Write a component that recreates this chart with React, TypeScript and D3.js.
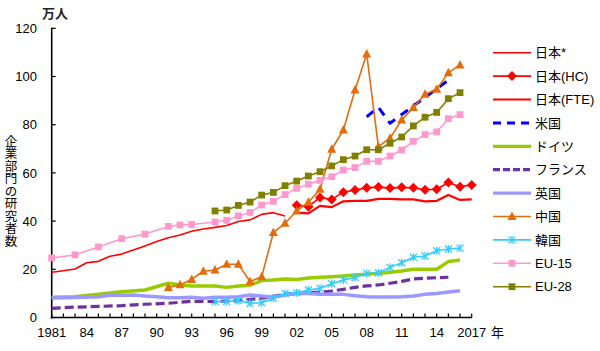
import React from 'react';
import * as d3 from 'd3';

const years = d3.range(1981, 2018);
const N = null;

// values in 万人, one slot per year 1981..2017 (null = no data)
const japanStar = [18.8, 19.4, 20.1, 22.7, 23.3, 25.4, 26.3, 28.0, 29.7, 31.5, 33.1, 34.2, 35.8, 36.7, 37.4, 38.2, 39.8, 40.5, 42.8, 43.5, 42.1, N, N, N, N, N, N, N, N, N, N, N, N, N, N, N, N];
const japanHC = [N, N, N, N, N, N, N, N, N, N, N, N, N, N, N, N, N, N, N, N, N, 46.6, 46.0, 49.8, 49.0, 52.0, 52.9, 53.8, 54.1, 53.7, 54.0, 53.8, 53.0, 53.2, 56.0, 54.3, 55.0];
const japanFTE = [N, N, N, N, N, N, N, N, N, N, N, N, N, N, N, N, N, N, N, N, N, 43.5, 43.2, 46.3, 45.8, 48.2, 48.4, 48.4, 49.2, 49.2, 49.0, 49.0, 48.2, 48.4, 50.8, 48.8, 49.0];
const usa = [N, N, N, N, N, N, N, N, N, N, N, N, N, N, N, N, N, N, N, N, N, N, N, N, N, N, N, 83.3, 87.2, 80.6, 84.2, 87.8, 91.3, 94.9, 98.5, N, N];
const germany = [8.4, N, 8.6, N, 9.6, N, 10.7, N, 11.4, N, 14.2, 13.5, 13.1, N, 13.1, 12.5, 13.1, 13.4, 15.3, 15.6, 16.0, 15.8, 16.4, 16.7, 16.9, 17.2, 17.6, 18.0, 18.3, 18.8, 19.3, 20.0, 20.0, 20.0, 23.2, 23.9, N];
const france = [3.8, N, 4.3, N, 4.6, N, 4.9, N, 5.5, N, 5.9, 6.3, 6.7, N, 6.6, N, 7.0, N, 8.0, 8.8, 9.6, 10.0, 10.3, 10.5, 11.0, 11.7, 12.5, 13.1, 13.5, 14.2, 15.0, 16.0, 16.3, 16.5, 16.7, N, N];
const uk = [8.1, N, 8.3, N, 8.6, 9.2, 9.2, 9.3, 8.9, 8.6, 8.2, 8.2, 8.4, 8.0, 8.4, 8.4, 8.6, 9.3, 8.9, 8.4, 9.3, 10.0, 10.0, 9.6, 9.6, 9.6, 9.0, 8.6, 8.5, 8.5, 8.6, 8.9, 9.6, 10.0, 10.6, 11.1, N];
const china = [N, N, N, N, N, N, N, N, N, N, 12.5, 13.6, 15.8, 19.2, 19.7, 22.1, 22.1, 14.9, 16.9, 35.3, 39.1, 44.2, 47.8, 53.2, 69.8, 77.8, 94.4, 109.3, 70.9, 74.4, 82.0, 87.1, 92.6, 94.7, 101.6, 104.8, N];
const korea = [N, N, N, N, N, N, N, N, N, N, N, N, N, N, 6.6, 6.6, 7.0, 5.9, 6.1, 8.0, 10.0, 10.3, 11.4, 12.1, 14.0, 15.6, 16.6, 18.3, 18.6, 20.8, 22.7, 25.0, 25.5, 27.7, 28.4, 28.8, N];
const eu15 = [24.7, N, 26.0, N, 29.3, N, 32.7, N, 34.6, N, 37.8, 38.4, 38.6, N, 39.6, 40.3, 42.2, 43.6, 46.7, 48.2, 51.0, 53.6, 55.3, 56.9, 58.4, 61.2, 62.2, 64.8, 64.8, 67.0, 69.5, 73.1, 75.9, 77.0, 82.5, 84.2, N];
const eu28 = [N, N, N, N, N, N, N, N, N, N, N, N, N, N, 44.2, 44.6, 46.5, 47.9, 50.8, 51.9, 54.7, 56.6, 58.7, 60.5, 62.9, 65.5, 67.0, 69.6, 69.6, 72.3, 74.9, 79.5, 83.1, 85.1, 90.8, 93.3, N];

const yTicks = [0, 20, 40, 60, 80, 100, 120];
const xTickLabels = [
  [1981, '1981'], [1984, '84'], [1987, '87'], [1990, '90'], [1993, '93'], [1996, '96'], [1999, '99'],
  [2002, '02'], [2005, '05'], [2008, '08'], [2011, '11'], [2014, '14'], [2017, '2017'],
];
const yTitle = '企業部門の研究者数';

const series = [
  { name: '日本*', values: japanStar, color: '#ff0000', width: 1.6 },
  { name: '日本(HC)', values: japanHC, color: '#ff0000', width: 1.6, marker: 'diamond' },
  { name: '日本(FTE)', values: japanFTE, color: '#ff0000', width: 2.2 },
  { name: '米国', values: usa, color: '#0000ff', width: 3, dash: '9,7', legendDash: '8,6' },
  { name: 'ドイツ', values: germany, color: '#99cc00', width: 3.5 },
  { name: 'フランス', values: france, color: '#7030a0', width: 3.2, dash: '9,4', legendDash: '7,3' },
  { name: '英国', values: uk, color: '#9999ff', width: 3.5 },
  { name: '中国', values: china, color: '#e46c0a', width: 1.6, marker: 'triangle' },
  { name: '韓国', values: korea, color: '#33ccff', width: 1.6, marker: 'star' },
  { name: 'EU-15', values: eu15, color: '#ff99cc', width: 1.6, marker: 'square' },
  { name: 'EU-28', values: eu28, color: '#808000', width: 1.6, marker: 'square' },
];

const FONT = '"Liberation Sans", Arial, "Noto Sans CJK JP", sans-serif';

function Marker({ type, x, y, color }) {
  if (type === 'diamond') {
    const s = 5;
    return <path d={`M${x},${y - s}L${x + s},${y}L${x},${y + s}L${x - s},${y}Z`} fill={color} />;
  }
  if (type === 'triangle') {
    const s = 4.5;
    return <path d={`M${x},${y - s - 0.5}L${x + s},${y + s - 1}L${x - s},${y + s - 1}Z`} fill={color} />;
  }
  if (type === 'square') {
    const s = 3.4;
    return <rect x={x - s} y={y - s} width={s * 2} height={s * 2} fill={color} />;
  }
  if (type === 'star') {
    const s = 3.5;
    return (
      <g stroke={color} strokeWidth={1.3}>
        <line x1={x - s} y1={y - s} x2={x + s} y2={y + s} />
        <line x1={x - s} y1={y + s} x2={x + s} y2={y - s} />
        <line x1={x} y1={y - s - 0.5} x2={x} y2={y + s + 0.5} />
      </g>
    );
  }
  return null;
}

export default function App() {
  const width = 600;
  const height = 351;
  const x = d3.scaleLinear().domain([1981, 2017]).range([51.7, 471.7]);
  const y = d3.scaleLinear().domain([0, 120]).range([317.5, 28.3]);

  const line = d3.line<[number, number]>()
    .x(d => x(d[0]))
    .y(d => y(d[1]));

  const legendX1 = 493;
  const legendX2 = 531;
  const legendY0 = 52.7;
  const legendStep = 23.4;

  return (
    <svg width={width} height={height} style={{ position: 'absolute', left: 0, top: 0, background: '#fff' }} fontFamily={FONT}>
      <rect width={width} height={height} fill="#fff" />

      {/* y axis */}
      <line x1={x(1981)} x2={x(1981)} y1={y(120) - 0.5} y2={y(0) + 1} stroke="#000" strokeWidth={1.6} />
      {yTicks.map(t => (
        <g key={t}>
          <line x1={x(1981)} x2={x(1981) + 4} y1={y(t)} y2={y(t)} stroke="#000" strokeWidth={1.2} />
          <text x={37} y={y(t)} dy="0.36em" textAnchor="end" fontSize={13}>{t}</text>
        </g>
      ))}
      <text x={42} y={18} fontSize={13} fontWeight="bold" fill="#222">万人</text>
      {yTitle.split('').map((c, i) => (
        <text key={i} x={11} y={141 + i * 12.5} dy="0.38em" textAnchor="middle" fontSize={12.5}>{c}</text>
      ))}

      {/* x axis */}
      <line x1={x(1981) - 1} x2={x(2017)} y1={y(0)} y2={y(0)} stroke="#000" strokeWidth={1.6} />
      {years.map(yr => (
        <line key={yr} x1={x(yr)} x2={x(yr)} y1={y(0)} y2={y(0) - 4} stroke="#000" strokeWidth={1.2} />
      ))}
      {xTickLabels.map(([yr, label]) => (
        <text key={yr} x={x(yr as number)} y={337} textAnchor="middle" fontSize={13}>{label}</text>
      ))}
      <text x={491} y={337} fontSize={13}>年</text>

      {/* series */}
      {series.map(s => {
        const pts = years
          .map((yr, i) => [yr, s.values[i]])
          .filter(p => p[1] != null) as [number, number][];
        return (
          <g key={s.name}>
            <path d={line(pts) || ''} fill="none" stroke={s.color} strokeWidth={s.width}
              strokeDasharray={s.dash} strokeLinejoin="round" />
            {s.marker && pts.map(p => (
              <Marker key={p[0]} type={s.marker} x={x(p[0])} y={y(p[1])} color={s.color} />
            ))}
          </g>
        );
      })}

      {/* legend */}
      {series.map((s, i) => {
        const ly = legendY0 + i * legendStep;
        return (
          <g key={s.name}>
            <line x1={legendX1} x2={legendX2} y1={ly} y2={ly} stroke={s.color}
              strokeWidth={Math.min(s.width, 3.2)} strokeDasharray={s.legendDash} />
            {s.marker && <Marker type={s.marker} x={(legendX1 + legendX2) / 2} y={ly} color={s.color} />}
            <text x={535} y={ly} dy="0.36em" fontSize={13}>{s.name}</text>
          </g>
        );
      })}
    </svg>
  );
}
